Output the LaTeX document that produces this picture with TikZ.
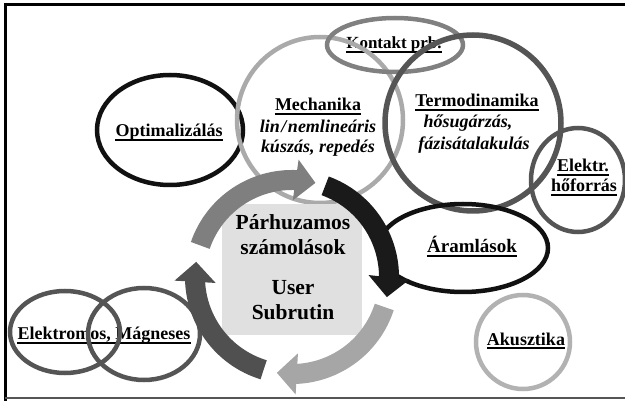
\documentclass[tikz,border=0pt]{standalone}
\usepackage{fontspec}
\setmainfont{Liberation Serif}
\usetikzlibrary{arrows.meta,bending}
\definecolor{cBlack}{HTML}{111111}
\definecolor{cLight}{HTML}{AAAAAA}
\definecolor{cMid}{HTML}{808080}
\definecolor{cDark}{HTML}{555555}
\definecolor{cBox}{HTML}{E0E0E0}
\definecolor{aOne}{HTML}{7F7F7F}
\definecolor{aTwo}{HTML}{1A1A1A}
\definecolor{aThree}{HTML}{A6A6A6}
\definecolor{aFour}{HTML}{505050}
\newcommand\fsz[1]{\fontsize{#1}{#1}\selectfont}
\newcommand\ulnode[4][lab]{%
  \node[#1] (#2) at (#3) {#4};
  \draw[line width=1.6pt] ([yshift=-3.2pt]#2.base west) -- ([yshift=-3.2pt]#2.base east);}
\begin{document}
\begin{tikzpicture}[x=1pt,y=-1pt,
  lab/.style={inner sep=0pt, anchor=base, font=\bfseries\fsz{18}},
  itl/.style={lab, font=\bfseries\itshape\fsz{18}},
  big/.style={inner sep=0pt, anchor=base, font=\bfseries\fsz{21.5}},
  outl/.style={line width=4.5pt},
  cyc/.style={line width=20pt, -{Triangle[width=40pt,length=20pt]}}]
\useasboundingbox (0,0) rectangle (625,401);
% frame
\draw[line width=3pt, black] (5,401) -- (5,5) -- (625,5);
\draw[line width=2pt, cDark] (5,398) -- (625,398);

% labels (drawn first, shapes overlay them)
\ulnode{opt}{169,137}{Optimalizálás}
\ulnode{mech}{318,111}{Mechanika}
\node[itl] (mechA) at (318,133) {lin\hspace{1.5pt}/\hspace{1.5pt}nemlineáris};
\node[itl] (mechB) at (318,153) {kúszás, repedés};
\ulnode[lab,font=\bfseries\fsz{17}]{kont}{394,49}{Kontakt prb.}
\ulnode{termo}{477,107}{Termodinamika}
\node[itl] (termoA) at (468,128) {hősugárzás,};
\node[itl] (termoB) at (474,150) {fázisátalakulás};
\ulnode{elA}{583,172}{Elektr.}
\ulnode{elB}{584,192}{hőforrás}
\ulnode[lab,font=\bfseries\fsz{19}]{aram}{472,253}{Áramlások}
\ulnode{aku}{526,345}{Akusztika}
\ulnode{elm}{104,340}{Elektromos, Mágneses}

% shapes
\draw[outl, cBlack] (170,130) ellipse[x radius=73, y radius=55];
\draw[outl, cLight] (320,120) circle[radius=83];
\draw[outl, cMid] (395,45) ellipse[x radius=68, y radius=27];
\draw[line width=5.5pt, cDark] (473,123) circle[radius=88];
\draw[outl, cDark] (578,180) ellipse[x radius=47, y radius=52];
\draw[outl, cBlack] (463,248) ellipse[x radius=85, y radius=44];
\draw[outl, cLight!90] (523,342) circle[radius=47];
\draw[outl, cDark] (65,332) ellipse[x radius=55, y radius=41];
\draw[outl, cDark] (144,334) ellipse[x radius=56, y radius=46];

% central box and cycle
\node[fill=cBox, minimum width=140pt, minimum height=131pt, inner sep=0pt] (box) at (292,269.5) {};
\node[big] (par) at (293,230) {Párhuzamos};
\node[big] (szam) at (293,255) {számolások};
\node[big] (user) at (293,295) {User};
\node[big] (sub) at (293,320) {Subrutin};
\coordinate (ring) at (292,277);
\draw[cyc, aOne] (ring) ++(-161:97) arc[start angle=-161, end angle=-76, radius=97];
\draw[cyc, aTwo] (ring) ++(-70:97) arc[start angle=-70, end angle=12, radius=97];
\draw[cyc, aThree] (ring) ++(18:97) arc[start angle=18, end angle=99, radius=97];
\draw[cyc, aFour] (ring) ++(107:97) arc[start angle=107, end angle=189, radius=97];
\end{tikzpicture}
\end{document}
